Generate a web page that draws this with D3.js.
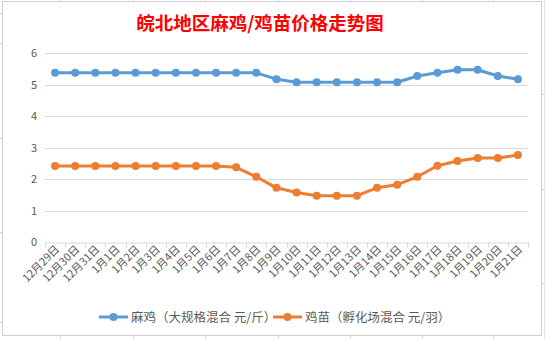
<!DOCTYPE html>
<html><head><meta charset="utf-8">
<script src="https://cdn.jsdelivr.net/npm/d3@7"></script>
<style>body{margin:0;background:#fff}svg{display:block}</style>
</head><body><svg id="c" width="546" height="339"></svg>
<script>
const categories = ["12月29日","12月30日","12月31日","1月1日","1月2日","1月3日","1月4日","1月5日","1月6日","1月7日","1月8日","1月9日","1月10日","1月11日","1月12日","1月13日","1月14日","1月15日","1月16日","1月17日","1月18日","1月19日","1月20日","1月21日"];
const maji = [5.37,5.37,5.37,5.37,5.37,5.37,5.37,5.37,5.37,5.37,5.37,5.17,5.07,5.07,5.07,5.07,5.07,5.07,5.27,5.37,5.47,5.47,5.27,5.17];
const jimiao = [2.41,2.41,2.41,2.41,2.41,2.41,2.41,2.41,2.41,2.37,2.07,1.72,1.57,1.47,1.47,1.47,1.72,1.82,2.07,2.42,2.57,2.67,2.67,2.76];
const yTicks = [0,1,2,3,4,5,6];
const seriesNames = ["麻鸡（大规格混合 元/斤）","鸡苗（孵化场混合 元/羽）"];
const colors = ["#5B9BD5","#ED7D31"];

const svg = d3.select("#c");
const font = "'Microsoft YaHei','Noto Sans CJK SC',sans-serif";

// spreadsheet background grid hints
const bg = svg.append("g").attr("stroke","#D4D4D4").attr("stroke-width",1);
[13,43,138,232,322].forEach(y=>bg.append("line").attr("x1",0).attr("x2",3).attr("y1",y+0.5).attr("y2",y+0.5));
[94,189,283].forEach(y=>bg.append("line").attr("x1",541).attr("x2",546).attr("y1",y+0.5).attr("y2",y+0.5));
[60,133,205,278,350,422,493].forEach(x=>{bg.append("line").attr("x1",x+0.5).attr("x2",x+0.5).attr("y1",0).attr("y2",2);bg.append("line").attr("x1",x+0.5).attr("x2",x+0.5).attr("y1",335).attr("y2",339);});
bg.append("line").attr("x1",544.5).attr("x2",544.5).attr("y1",0).attr("y2",339).attr("stroke","#E6E6E6");

// chart border
svg.append("rect").attr("x",2.5).attr("y",1.5).attr("width",539).attr("height",334)
  .attr("fill","#fff").attr("stroke","#D0D0D0");

const x = d3.scaleBand().domain(categories).range([45,528]);
const y = d3.scaleLinear().domain([0,6]).range([242,53]);

// grid
svg.append("g").selectAll("line").data(yTicks.filter(d=>d>0)).join("line")
  .attr("x1",45).attr("x2",528).attr("y1",d=>Math.round(y(d))+0.5).attr("y2",d=>Math.round(y(d))+0.5)
  .attr("stroke","#D9D9D9");

// y axis labels
svg.append("g").selectAll("text").data(yTicks).join("text")
  .attr("x",37).attr("y",d=>y(d)+4).attr("text-anchor","end")
  .attr("font-family",font).attr("font-size",11).attr("fill","#595959").text(d=>d);

// x axis
const xa = svg.append("g").attr("transform","translate(0,"+(Math.round(y(0))+0.5)+")")
  .call(d3.axisBottom(x).tickSize(0).tickFormat(""));
xa.select(".domain").attr("stroke","#D9D9D9");
const bounds = categories.map((c,i)=>x(c)).concat([528]);
xa.selectAll(".b").data(bounds).join("line").attr("class","b")
  .attr("x1",d=>Math.round(d)+0.5).attr("x2",d=>Math.round(d)+0.5).attr("y1",0).attr("y2",5).attr("stroke","#D9D9D9");

svg.append("g").selectAll("text").data(categories).join("text")
  .attr("transform",d=>`translate(${x(d)+x.bandwidth()/2+5},${250}) rotate(-45)`)
  .attr("text-anchor","end").attr("font-family",font).attr("font-size",11).attr("fill","#595959").text(d=>d);

// lines
[maji,jimiao].forEach((vals,k)=>{
  const pts = vals.map((v,i)=>[x(categories[i])+x.bandwidth()/2, y(v)]);
  svg.append("path").attr("d",d3.line()(pts)).attr("fill","none")
    .attr("stroke",colors[k]).attr("stroke-width",3).attr("stroke-linejoin","round");
  svg.append("g").selectAll("circle").data(pts).join("circle")
    .attr("cx",d=>d[0]).attr("cy",d=>d[1]).attr("r",4).attr("fill",colors[k]);
});

// title
svg.append("text").attr("x",260).attr("y",30).attr("text-anchor","middle")
  .attr("font-family","'Noto Sans CJK SC',sans-serif").attr("font-weight","bold")
  .attr("font-size",18.5).attr("fill","#FF0000").text("皖北地区麻鸡/鸡苗价格走势图");

// legend
const lg = [{x0:99,tx:131},{x0:273,tx:305}];
lg.forEach((l,k)=>{
  svg.append("line").attr("x1",l.x0).attr("x2",l.x0+29).attr("y1",317).attr("y2",317)
    .attr("stroke",colors[k]).attr("stroke-width",3);
  svg.append("circle").attr("cx",l.x0+14.5).attr("cy",317).attr("r",4).attr("fill",colors[k]);
  svg.append("text").attr("x",l.tx).attr("y",321.5).attr("font-family",font)
    .attr("font-size",12.5).attr("fill","#595959").text(seriesNames[k]);
});
</script></body></html>
